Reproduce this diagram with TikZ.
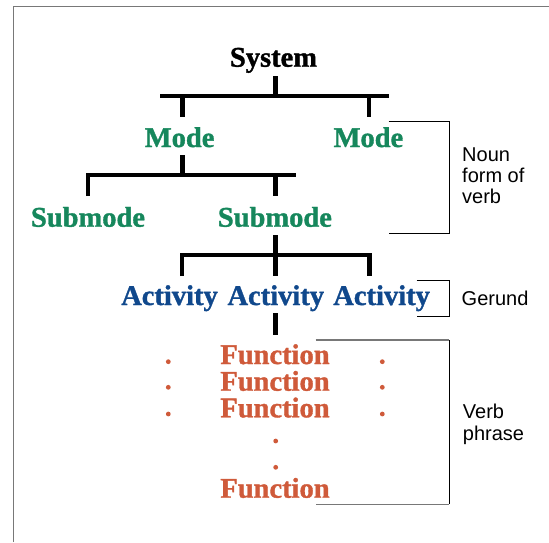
\documentclass[tikz,border=0pt]{standalone}
\usepackage{fontspec}
\setmainfont{Liberation Serif}[BoldFeatures={FakeBold=1.2}]
\newfontfamily\sansf{Liberation Sans}
\definecolor{mgreen}{RGB}{22,135,92}
\definecolor{ablue}{RGB}{16,72,140}
\definecolor{forange}{RGB}{207,90,58}
\definecolor{framegray}{RGB}{120,120,120}
\begin{document}
\begin{tikzpicture}[x=1pt,y=-1pt,
  lbl/.style={inner sep=0pt, anchor=base, font=\fontsize{28.5}{30}\selectfont\bfseries},
  ann/.style={inner sep=0pt, anchor=base west, font=\fontsize{20}{21}\selectfont\sansf},
  tree/.style={line width=4.5pt, line cap=butt, line join=miter},
  brk/.style={line width=1pt, black},
  fdot/.style={circle, fill=forange, inner sep=0pt, minimum size=4.8pt}]
\useasboundingbox (0,0) rectangle (549,542);
\draw[framegray, line width=1.5pt] (13.3,542) -- (13.3,6.5) -- (549,6.5);

% labels
\node[lbl] (system) at (273.5,66.7) {System};
\node[lbl, text=mgreen] (modeL) at (179.6,147) {Mode};
\node[lbl, text=mgreen] (modeR) at (368.4,147) {Mode};
\node[lbl, text=mgreen] (subL) at (88,226.7) {Submode};
\node[lbl, text=mgreen] (subR) at (274.9,226.7) {Submode};
\node[lbl, text=ablue] (act1) at (169.5,305) {Activity};
\node[lbl, text=ablue] (act2) at (275.8,305) {Activity};
\node[lbl, text=ablue] (act3) at (381.6,305) {Activity};
\node[lbl, text=forange] (fun1) at (275,364) {Function};
\node[lbl, text=forange] (fun2) at (275,390.7) {Function};
\node[lbl, text=forange] (fun3) at (275,417.3) {Function};
\node[lbl, text=forange] (fun4) at (275,497.7) {Function};

% dots
\node[fdot] (dl1) at (168.3,361.7) {};
\node[fdot] (dl2) at (168.3,387.3) {};
\node[fdot] (dl3) at (168.3,414) {};
\node[fdot] (dr1) at (382.3,361.7) {};
\node[fdot] (dr2) at (382.3,387.3) {};
\node[fdot] (dr3) at (382.3,414) {};
\node[fdot] (dm1) at (275.7,441) {};
\node[fdot] (dm2) at (275.7,467.3) {};

% tree level 1
\coordinate (t1) at (275.3,76);
\coordinate (j1) at (275.3,96);
\coordinate (b1l) at (160,96);
\coordinate (b1r) at (388.7,96);
\coordinate (d1l) at (182.3,117);
\coordinate (d1r) at (369,117);
\draw[tree] (t1) -- (j1);
\draw[tree] (b1l) -- (b1r);
\draw[tree] (d1l |- j1) -- (d1l);
\draw[tree] (d1r |- j1) -- (d1r);

% tree level 2
\coordinate (t2) at (182.3,155);
\coordinate (j2) at (182.3,175);
\coordinate (b2r) at (296,175);
\coordinate (d2l) at (88,196);
\coordinate (d2r) at (275.3,196);
\draw[tree] (t2) -- (j2);
\draw[tree] (d2l) -- (d2l |- j2) -- (b2r);
\draw[tree] (d2r |- j2) -- (d2r);

% tree level 3
\coordinate (t3) at (275.3,235);
\coordinate (j3) at (275.3,255);
\coordinate (d3l) at (182,276);
\coordinate (d3m) at (275.3,276);
\coordinate (d3r) at (369.3,276);
\draw[tree] (t3) -- (j3);
\draw[tree] (d3l) -- (d3l |- j3) -- (d3r |- j3) -- (d3r);
\draw[tree] (j3) -- (d3m);

% tree level 4
\coordinate (t4) at (275.3,313);
\coordinate (b4) at (275.3,335);
\draw[tree] (t4) -- (b4);

% brackets
\coordinate (nb1) at (388.7,121);
\coordinate (nb2) at (449,121);
\coordinate (nb3) at (449,233.3);
\coordinate (nb4) at (388.7,233.3);
\draw[brk] (nb1) -- (nb2) -- (nb3) -- (nb4);
\coordinate (gb1) at (416.7,280.3);
\coordinate (gb2) at (449,280.3);
\coordinate (gb3) at (449,316);
\coordinate (gb4) at (416.7,316);
\draw[brk] (gb1) -- (gb2) -- (gb3) -- (gb4);
\coordinate (vb1) at (315.7,340);
\coordinate (vb2) at (449,340);
\coordinate (vb3) at (449,504.3);
\coordinate (vb4) at (315.7,504.3);
\draw[brk, framegray, line width=1.4pt] (vb1) -- (vb2);
\draw[brk, framegray, line width=1.4pt] (vb3) -- (vb4);
\draw[brk] (vb2) -- (vb3);

% annotations
\node[ann] (noun) at (462,161.5) {\begin{tabular}[t]{@{}l@{}}Noun\\form of\\verb\end{tabular}};
\node[ann] (gerund) at (461.5,305) {Gerund};
\node[ann, font=\fontsize{20}{21.7}\selectfont\sansf] (verb) at (462.7,418.3) {\begin{tabular}[t]{@{}l@{}}Verb\\phrase\end{tabular}};
\end{tikzpicture}
\end{document}
